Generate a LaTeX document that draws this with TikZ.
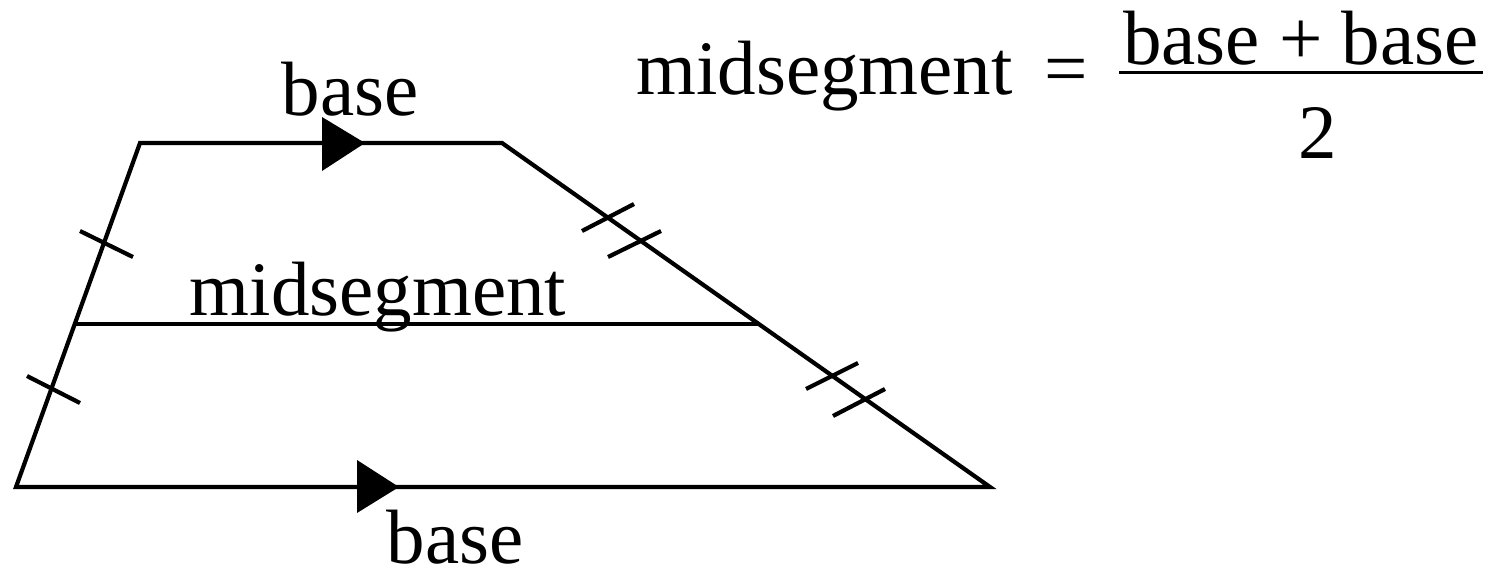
\documentclass[tikz,border=0pt]{standalone}
\usepackage{fontspec}
\setmainfont{Liberation Serif}
\begin{document}
\begin{tikzpicture}[x=0.5pt,y=-0.5pt,
  edge/.style={line width=2.1pt, line join=miter},
  tickmark/.style={line width=2.1pt},
  lbl/.style={inner sep=0pt, font=\fontsize{38.5}{46}\selectfont},
  arrowhead/.style={fill=black}]
\useasboundingbox (0,0) rectangle (1499,568);
% vertices
\coordinate (TL) at (140,143);
\coordinate (TR) at (502,143);
\coordinate (BR) at (990,487);
\coordinate (BL) at (16,487);
\coordinate (ML) at (76,324);
\coordinate (MR) at (759,324);
% trapezoid and midsegment
\draw[edge] (TL) -- (TR) -- (BR) -- (BL) -- cycle;
\draw[edge] (ML) -- (MR);
% parallel arrowheads
\fill[arrowhead] (322,117) -- (365,143) -- (322,171) -- cycle;
\fill[arrowhead] (357,460) -- (399,487) -- (357,513) -- cycle;
% single ticks on the left leg
\draw[tickmark] (80,231) -- (133,257);
\draw[tickmark] (27,376) -- (80,403);
% double ticks on the right leg
\draw[tickmark] (582,231) -- (634,204);
\draw[tickmark] (608,257) -- (661,231);
\draw[tickmark] (806,389) -- (858,363);
\draw[tickmark] (833,416) -- (885,389);
% labels
\node[lbl, anchor=base] (topbase) at (350,115) {base};
\node[lbl, anchor=base] (midlbl) at (378,315) {midsegment};
\node[lbl, anchor=base, text depth=0pt] (botbase) at (455,563) {base};
% formula
\node[lbl, anchor=base west] (fleft) at (636,94) {midsegment};
\node[lbl, anchor=base east] (feq) at (1088,94) {=};
\node[lbl, anchor=base] (fnum) at (1301,64) {base + base};
\node[lbl, anchor=base] (fden) at (1318,158) {2};
\coordinate (barL) at (1119,72);
\coordinate (barR) at (1483,72);
\draw[line width=1.5pt] (barL) -- (barR);
\end{tikzpicture}
\end{document}
